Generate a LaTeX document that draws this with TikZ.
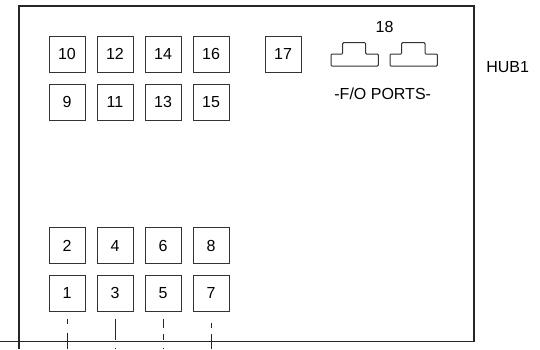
\documentclass[tikz,border=0pt]{standalone}
\usepackage{fontspec}
\setmainfont{Liberation Sans}
\begin{document}
\begin{tikzpicture}[x=1pt,y=-1pt,
  portbox/.style={draw=black!80, line width=1pt, minimum size=36pt, inner sep=0pt, font=\fontsize{16}{18}\selectfont},
  lbl/.style={inner sep=0pt, font=\fontsize{16}{18}\selectfont},
  fo/.style={draw=black!80, line width=1pt, rounded corners=1pt},
  drop/.style={draw=black!85, line width=1pt}]
\useasboundingbox (0,0) rectangle (540,349);
% hub outline
\draw[black!85, line width=1.3pt] (19,349) -- (19,6) -- (474,6) -- (474,341.5) -- (0,341.5);
% top ports
\node[portbox] (p10) at (67,54) {10};
\node[portbox] (p12) at (115,54) {12};
\node[portbox] (p14) at (163,54) {14};
\node[portbox] (p16) at (211,54) {16};
\node[portbox] (p17) at (283,54) {17};
\node[portbox] (p9)  at (67,102) {9};
\node[portbox] (p11) at (115,102) {11};
\node[portbox] (p13) at (163,102) {13};
\node[portbox] (p15) at (211,102) {15};
% bottom ports
\node[portbox] (p2) at (67,245.5) {2};
\node[portbox] (p4) at (115,245.5) {4};
\node[portbox] (p6) at (163,245.5) {6};
\node[portbox] (p8) at (211,245.5) {8};
\node[portbox] (p1) at (67,293) {1};
\node[portbox] (p3) at (115,293) {3};
\node[portbox] (p5) at (163,293) {5};
\node[portbox] (p7) at (211,293) {7};
% fibre ports
\draw[fo] (331,66) -- (331,54) -- (342.7,54) -- (342.7,42.7) -- (365.7,42.7) -- (365.7,54) -- (378.3,54) -- (378.3,66) -- cycle;
\draw[fo] (390,66) -- (390,54) -- (401.7,54) -- (401.7,42.7) -- (425,42.7) -- (425,54) -- (437.3,54) -- (437.3,66) -- cycle;
\node[lbl] (n18) at (384.5,26.7) {18};
\node[lbl] (fol) at (382.7,93.5) {-F/O PORTS-};
\node[lbl] (hub) at (507.7,66.7) {HUB1};
% drop lines
\coordinate (e1) at (67,349);
\coordinate (e3) at (115,349);
\coordinate (e5) at (163,349);
\coordinate (e7) at (211,349);
\draw[drop, dash pattern=on 5pt off 9pt on 40pt off 1pt] ([yshift=-7pt]p1.south) -- (e1);
\draw[drop, dash pattern=on 21pt off 8pt on 3pt off 10pt] ([yshift=-7pt]p3.south) -- (e3);
\draw[drop, dash pattern=on 9pt off 6pt on 6pt off 8pt on 3pt off 10pt] ([yshift=-7pt]p5.south) -- (e5);
\draw[drop, dash pattern=on 16pt off 4pt on 5pt off 6pt, dash phase=16pt] ([yshift=-7pt]p7.south) -- (e7);
\end{tikzpicture}
\end{document}
